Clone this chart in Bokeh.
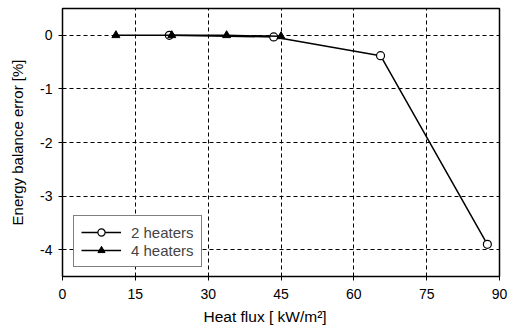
from bokeh.plotting import figure
from bokeh.models import Range1d, FixedTicker, Legend, LegendItem, Title
from bokeh.embed import file_html
from bokeh.resources import INLINE

x2 = [22.0, 43.5, 65.5, 87.5]
y2 = [0.0, -0.03, -0.38, -3.9]
x4 = [11.0, 22.5, 33.8, 45.0]
y4 = [0.0, 0.0, 0.0, -0.02]
xticks = [0, 15, 30, 45, 60, 75, 90]
yticks = [-4, -3, -2, -1, 0]
ytick_labels = {-4: "-4", -3: "-3", -2: "-2", -1: "-1", 0: "0"}
xlabel = "Heat flux [ kW/m\u00b2]"
ylabel = "Energy balance error [%]"

FONT = "Liberation Sans"

p = figure(width=517, height=331, output_backend="svg", toolbar_location=None,
           x_range=Range1d(0, 90), y_range=Range1d(-4.5, 0.5),
           min_border_left=62, min_border_right=18, min_border_top=8, min_border_bottom=55)
p.background_fill_color = "white"
p.border_fill_color = "white"
p.outline_line_color = "black"
p.outline_line_width = 1.5

for ax in (p.xaxis[0], p.yaxis[0]):
    ax.axis_line_color = None
    ax.major_tick_line_color = "black"
    ax.major_tick_out = 4
    ax.major_tick_in = 0
    ax.minor_tick_line_color = None
    ax.major_label_text_font = FONT
    ax.major_label_text_font_size = "14px"
    ax.major_label_text_color = "black"
    ax.axis_label_text_font = FONT
    ax.axis_label_text_font_size = "15px"
    ax.axis_label_text_font_style = "normal"
    ax.axis_label_text_color = "black"

p.xaxis.ticker = FixedTicker(ticks=xticks)
p.yaxis.ticker = FixedTicker(ticks=yticks)
p.yaxis.major_label_overrides = ytick_labels
p.yaxis.axis_label = ylabel
p.xaxis.major_label_standoff = 8
p.yaxis.major_label_standoff = 6
p.yaxis.axis_label_standoff = 11

# x-axis title, placed slightly left of centre as in the original
xt = Title(text=xlabel, align="left", offset=141, text_font=FONT,
           text_font_size="15.5px", text_font_style="normal", text_color="black",
           standoff=8)
p.add_layout(xt, "below")

for g in (p.xgrid[0], p.ygrid[0]):
    g.grid_line_color = "black"
    g.grid_line_dash = "4 3"
    g.grid_line_width = 1

l2 = p.line(x2, y2, line_color="black", line_width=1.5)
m2 = p.scatter(x2, y2, marker="circle", size=8, fill_color="white", line_color="black", line_width=1.2)
l4 = p.line(x4, y4, line_color="black", line_width=1.5)
m4 = p.scatter(x4, y4, marker="triangle", size=8, fill_color="black", line_color="black")

legend = Legend(items=[LegendItem(label="2 heaters", renderers=[l2, m2]),
                       LegendItem(label="4 heaters", renderers=[l4, m4])],
                location=(11, 9))
legend.border_line_color = "black"
legend.border_line_width = 1.5
legend.background_fill_alpha = 1
legend.label_text_font = FONT
legend.label_text_font_size = "15px"
legend.glyph_width = 40
legend.glyph_height = 18
legend.spacing = 0
legend.padding = 7
legend.margin = 0
legend.label_standoff = 10
legend.label_height = 18
p.add_layout(legend, "center")

open("out.html", "w").write(file_html(p, INLINE))
